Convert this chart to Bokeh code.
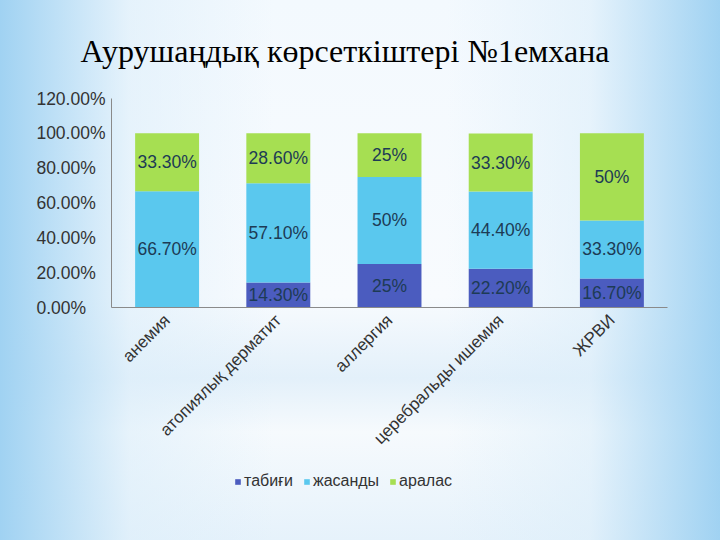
from math import pi
from bokeh.plotting import figure
from bokeh.layouts import column
from bokeh.models import ColumnDataSource, FixedTicker, Legend, LegendItem
from bokeh.core.properties import value
from bokeh.embed import file_html
from bokeh.resources import INLINE

categories = ["анемия", "атопиялық дерматит", "аллергия", "церебральды ишемия", "ЖРВИ"]
series_names = ["табиғи", "жасанды", "аралас"]
tabigi = [0.0, 14.3, 25.0, 22.2, 16.7]
zhasandy = [66.7, 57.1, 50.0, 44.4, 33.3]
aralas = [33.3, 28.6, 25.0, 33.3, 50.0]
tabigi_labels = ["", "14.30%", "25%", "22.20%", "16.70%"]
zhasandy_labels = ["66.70%", "57.10%", "50%", "44.40%", "33.30%"]
aralas_labels = ["33.30%", "28.60%", "25%", "33.30%", "50%"]
y_ticks = [0, 20, 40, 60, 80, 100, 120]
y_tick_labels = ["0.00%", "20.00%", "40.00%", "60.00%", "80.00%", "100.00%", "120.00%"]
title_text = "Аурушаңдық  көрсеткіштері №1емхана"

colors = ["#4b5cbf", "#5ac8ee", "#a6df52"]

src = ColumnDataSource(dict(
    cat=categories, табиғи=tabigi, жасанды=zhasandy, аралас=aralas,
))

p = figure(x_range=categories, y_range=(0, 120),
           frame_width=556, frame_height=209,
           output_backend="svg", toolbar_location=None,
           min_border_left=111, min_border_right=53, min_border_top=98,
           min_border_bottom=156)
p.border_fill_alpha = 0
p.background_fill_alpha = 0
p.outline_line_color = None
p.xgrid.grid_line_color = None
p.ygrid.grid_line_color = None

renderers = p.vbar_stack(series_names, x="cat", width=0.575, source=src,
                         color=colors, line_color=None)

def add_labels(vals, bases, labels):
    xs, ys, ts = [], [], []
    for c, v, b, t in zip(categories, vals, bases, labels):
        if t:
            xs.append(c)
            ys.append(b + v / 2.0)
            ts.append(t)
    p.text(x=xs, y=ys, text=ts, text_align="center", text_baseline="middle",
           text_font=value("Liberation Sans"), text_font_size="17.5px",
           text_color="#1d3b55")

base0 = [0.0] * len(categories)
base1 = [a for a in tabigi]
base2 = [a + b for a, b in zip(tabigi, zhasandy)]
add_labels(tabigi, base0, tabigi_labels)
add_labels(zhasandy, base1, zhasandy_labels)
add_labels(aralas, base2, aralas_labels)

# axes
p.yaxis.ticker = FixedTicker(ticks=y_ticks)
fs = "\u2007"
maxlen = max(len(s) for s in y_tick_labels)
p.yaxis.major_label_overrides = {t: s + fs * (maxlen - len(s)) for t, s in zip(y_ticks, y_tick_labels)}
p.yaxis.major_tick_line_color = None
p.yaxis.major_tick_out = 0
p.yaxis.minor_tick_line_color = None
p.yaxis.axis_line_color = "#8a8a8a"
p.yaxis.major_label_text_font = "Liberation Sans"
p.yaxis.major_label_text_font_size = "17.5px"
p.yaxis.major_label_text_color = "#333333"
p.yaxis.major_label_standoff = 6

p.xaxis.major_tick_line_color = None
p.xaxis.major_tick_out = 0
p.xaxis.axis_line_color = "#8a8a8a"
p.xaxis.major_label_orientation = pi / 4
p.xaxis.major_label_text_font = "Liberation Sans"
p.xaxis.major_label_text_font_size = "17px"
p.xaxis.major_label_text_color = "#333333"
p.xaxis.major_label_standoff = 10

# title
p.title.text = title_text
p.title.text_font = "'Liberation Serif', 'Times New Roman', serif"
p.title.text_font_size = "32px"
p.title.text_font_style = "normal"
p.title.text_color = "#000000"
p.title.align = "left"
p.title.offset = -31
p.title.standoff = 60

# legend strip: same series drawn through their own (out-of-view) range
lg = figure(x_range=categories, y_range=(500, 600), width=720, height=77,
            output_backend="svg", toolbar_location=None,
            x_axis_type=None, y_axis_type=None, min_border=0)
lg.border_fill_alpha = 0
lg.background_fill_alpha = 0
lg.outline_line_color = None
lg.grid.visible = False
lg_renderers = lg.vbar_stack(series_names, x="cat", width=0.575, source=src,
                             color=colors, line_color=None)
legend = Legend(items=[LegendItem(label=n, renderers=[r]) for n, r in zip(series_names, lg_renderers)],
                orientation="horizontal", location=(123, 50),
                label_text_font="Liberation Sans", label_text_font_size="16px",
                label_text_color="#333333", glyph_width=7, glyph_height=7,
                spacing=10, label_standoff=3, background_fill_alpha=0,
                border_line_color=None, margin=0, padding=4)
lg.add_layout(legend, "center")

bg = ("linear-gradient(90deg, rgba(160,210,242,1) 0%, rgba(220,238,250,0.6) 18%, "
      "rgba(255,255,255,0) 38%, rgba(255,255,255,0) 62%, rgba(220,238,250,0.6) 82%, "
      "rgba(160,210,242,1) 100%), linear-gradient(180deg, #f3f9fe 0%, #f8fbfe 55%, "
      "#e3f0fa 70%, #f6fafd 80%, #e6f2fb 100%)")
layout = column(p, lg, spacing=0, styles={"background": bg})

open("out.html", "w").write(file_html(layout, INLINE))
